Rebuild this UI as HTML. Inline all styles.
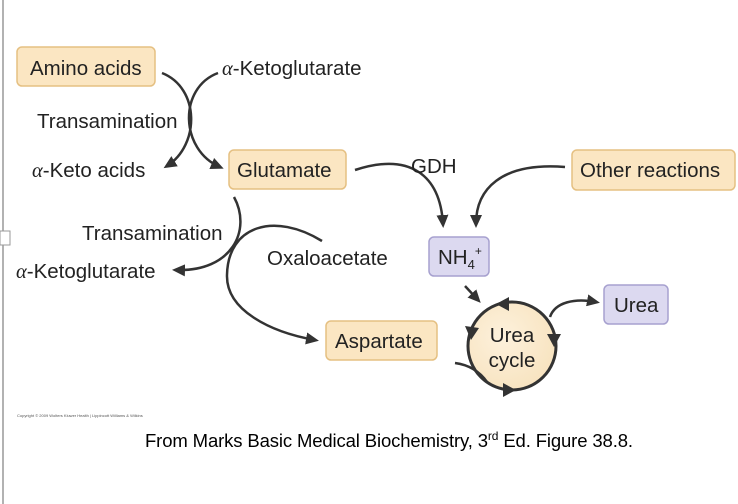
<!DOCTYPE html>
<html><head><style>
body{margin:0;background:#fff;}
svg{display:block;font-family:"Liberation Sans",sans-serif;}
</style></head><body>
<svg width="738" height="504" viewBox="0 0 738 504" xmlns="http://www.w3.org/2000/svg">
<defs>
<marker id="a" markerWidth="14" markerHeight="12" refX="9" refY="6" orient="auto" markerUnits="userSpaceOnUse">
<path d="M0,0 L13,6 L0,12 Z" fill="#333"/></marker>
<radialGradient id="g" cx="0.4" cy="0.4" r="0.7"><stop offset="0" stop-color="#fdf1dc"/><stop offset="1" stop-color="#f7e2bd"/></radialGradient>
</defs>
<line x1="3" y1="0" x2="3" y2="504" stroke="#999" stroke-width="1.5"/>
<rect x="0" y="231" width="10" height="14" fill="#fff" stroke="#999"/>
<g fill="#fbe6c2" stroke="#e5c082" stroke-width="1.5">
<rect x="17" y="47" width="138" height="39" rx="5"/>
<rect x="229" y="150" width="117" height="39" rx="5"/>
<rect x="572" y="150" width="163" height="40" rx="5"/>
<rect x="326" y="321" width="111" height="39" rx="5"/>
</g>
<g fill="#dcd9f0" stroke="#a7a1cf" stroke-width="1.5">
<rect x="429" y="237" width="60" height="39" rx="5"/>
<rect x="604" y="285" width="64" height="39" rx="5"/>
</g>
<circle cx="512" cy="346" r="44" fill="url(#g)" stroke="#333" stroke-width="3"/>
<g fill="#333">
<path d="M496,304 L509,297 L509,311Z"/>
<path d="M471,340 L465,326 L479,328Z"/>
<path d="M516,390 L503,383 L503,397Z"/>
<path d="M554,347 L547,334 L561,334Z"/>
</g>
<g fill="none" stroke="#333" stroke-width="2.5">
<path d="M162,73 C200,88 200,145 167,166" marker-end="url(#a)"/>
<path d="M218,73 C178,88 180,150 220,167" marker-end="url(#a)"/>
<path d="M355,170 C410,152 440,175 443,224" marker-end="url(#a)"/>
<path d="M565,167 C500,162 476,190 476,224" marker-end="url(#a)"/>
<path d="M234,197 C252,230 232,272 176,270" marker-end="url(#a)"/>
<path d="M322,241 C275,212 228,225 227,275 C226,310 270,332 315,340" marker-end="url(#a)"/>
<path d="M465,286 L478,300" marker-end="url(#a)"/>
<path d="M455,363 C470,365 480,372 487,382"/>
<path d="M550,317 C555,302 575,298 596,302" marker-end="url(#a)"/>
</g>
<g font-size="20.5" fill="#222">
<text x="30" y="75">Amino acids</text>
<text x="222" y="75"><tspan font-family="Liberation Serif" font-style="italic">α</tspan>-Ketoglutarate</text>
<text x="37" y="128">Transamination</text>
<text x="32" y="177"><tspan font-family="Liberation Serif" font-style="italic">α</tspan>-Keto acids</text>
<text x="237" y="177">Glutamate</text>
<text x="411" y="173">GDH</text>
<text x="580" y="177">Other reactions</text>
<text x="82" y="240">Transamination</text>
<text x="16" y="278"><tspan font-family="Liberation Serif" font-style="italic">α</tspan>-Ketoglutarate</text>
<text x="267" y="265">Oxaloacetate</text>
<text x="438" y="264">NH<tspan font-size="13" dy="5">4</tspan><tspan font-size="12" dy="-14">+</tspan></text>
<text x="335" y="348">Aspartate</text>
<text x="614" y="312">Urea</text>
<text x="512" y="342" text-anchor="middle">Urea</text>
<text x="512" y="367" text-anchor="middle">cycle</text>
</g>
<text x="17" y="417" font-size="4" fill="#555">Copyright © 2009 Wolters Kluwer Health | Lippincott Williams &amp; Wilkins</text>
<text x="145" y="447" font-size="18.5" fill="#000" textLength="488">From Marks Basic Medical Biochemistry, 3<tspan font-size="12" dy="-7">rd</tspan><tspan dy="7"> Ed. Figure 38.8.</tspan></text>
</svg>
</body></html>
